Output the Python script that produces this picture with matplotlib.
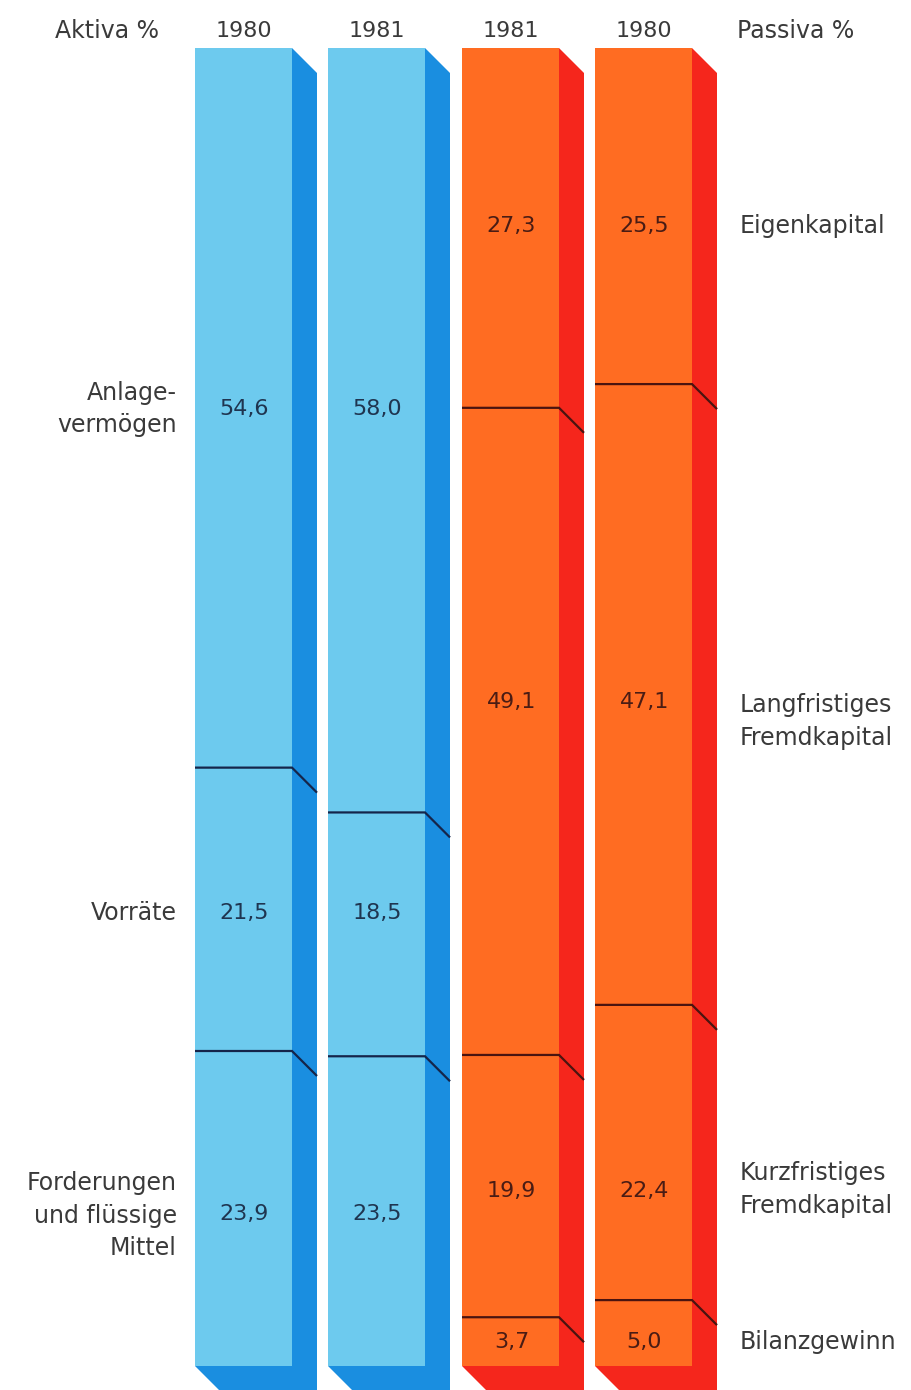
import matplotlib.pyplot as plt
from matplotlib.patches import Polygon

plt.rcParams['font.family'] = ['DejaVu Sans']

# Daten (Anteile in %)
jahre = ["1980", "1981", "1981", "1980"]
aktiva_1980 = [54.6, 21.5, 23.9]
aktiva_1981 = [58.0, 18.5, 23.5]
passiva_1981 = [27.3, 49.1, 19.9, 3.7]
passiva_1980 = [25.5, 47.1, 22.4, 5.0]
aktiva_labels = ["Anlage-\nvermögen", "Vorräte", "Forderungen\nund flüssige\nMittel"]
passiva_labels = ["Eigenkapital", "Langfristiges\nFremdkapital", "Kurzfristiges\nFremdkapital", "Bilanzgewinn"]

saeulen = [aktiva_1980, aktiva_1981, passiva_1981, passiva_1980]

# Layout
W, H = 912, 1390
top_px, bot_px = 48, 1366
x_links = [195, 328, 462, 595]
breite = 97
tiefe_x = 25
tiefe_y = 25 / (bot_px - top_px) * 100
fs_zahl = 16
fs_text = 17

blau = {"front": "#6dcaee", "seite": "#1a8ee0", "linie": "#15254a", "text": "#1f3550"}
rot = {"front": "#ff6c22", "seite": "#f5261c", "linie": "#4a1410", "text": "#4a1c14"}
farben = [blau, blau, rot, rot]
grau = "#3a3a3a"

# Textpositionen (in % der Säulenhöhe)
aktiva_y = [27.4, 65.6, 88.5]
passiva_y = [13.5, 49.6, 86.7, 98.2]
aktiva_lab_y = [27.4, 65.6, 88.6]
passiva_lab_y = [13.5, 51.1, 86.6, 98.2]

fig = plt.figure(figsize=(W / 100, H / 100), dpi=100)
ax = fig.add_axes([0, (H - bot_px) / H, 1, (bot_px - top_px) / H])
ax.set_xlim(0, W)
ax.set_ylim(100, 0)
ax.axis('off')

for i, (werte, f) in enumerate(zip(saeulen, farben)):
    x0 = x_links[i]
    x1 = x0 + breite
    # Seitenfläche
    ax.add_patch(Polygon([(x1, 0), (x1 + tiefe_x, tiefe_y), (x1 + tiefe_x, 100 + tiefe_y * 3),
                          (x1, 100 + tiefe_y * 3)], closed=True, fc=f["seite"], ec='none', clip_on=False))
    # Bodenfläche
    ax.add_patch(Polygon([(x0, 100), (x1, 100), (x1 + tiefe_x, 100 + tiefe_y),
                          (x0 + tiefe_x, 100 + tiefe_y)], closed=True, fc=f["seite"], ec='none', clip_on=False))
    # Vorderseite
    ax.bar(x0, 100, width=breite, bottom=0, align='edge', color=f["front"], edgecolor='none')

    kum = 0
    for j, v in enumerate(werte):
        kum += v
        if j < len(werte) - 1:
            ax.plot([x0, x1, x1 + tiefe_x], [kum, kum, kum + tiefe_y], color=f["linie"], lw=1.6,
                    solid_capstyle='butt', solid_joinstyle='miter')
        ys = aktiva_y if i < 2 else passiva_y
        ax.text(x0 + breite / 2 + 1, ys[j], f"{v:.1f}".replace('.', ','), ha='center', va='center',
                fontsize=fs_zahl, color=f["text"])

# Kopfzeile
fig.text(107 / W, 1 - 31 / H, "Aktiva %", ha='center', va='center', fontsize=fs_text, color=grau)
fig.text(737 / W, 1 - 31 / H, "Passiva %", ha='left', va='center', fontsize=fs_text, color=grau)
for i, j in enumerate(jahre):
    fig.text((x_links[i] + breite / 2) / W, 1 - 31 / H, j, ha='center', va='center',
             fontsize=fs_zahl, color=grau)

for lab, y in zip(aktiva_labels, aktiva_lab_y):
    ax.text(177, y, lab, ha='right', va='center', fontsize=fs_text, color=grau, linespacing=1.45)
for lab, y in zip(passiva_labels, passiva_lab_y):
    ax.text(740, y, lab, ha='left', va='center', fontsize=fs_text, color=grau, linespacing=1.45)

fig.savefig("out.png", dpi=100, facecolor='white')
